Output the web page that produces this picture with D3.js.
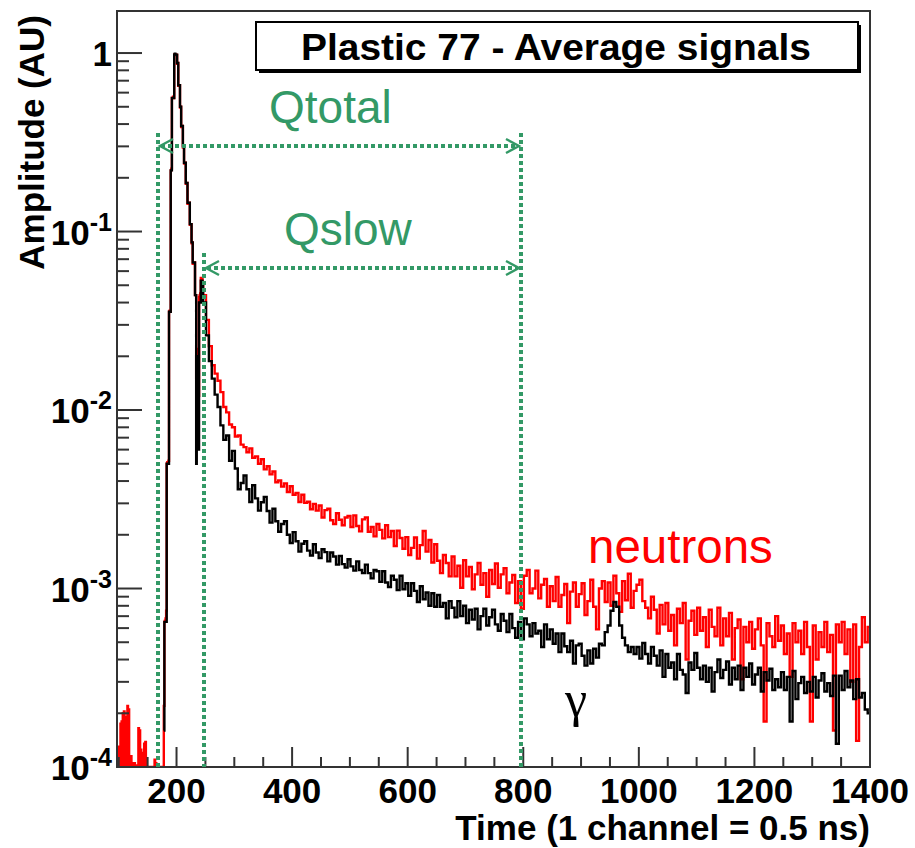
<!DOCTYPE html>
<html><head><meta charset="utf-8">
<script src="https://cdn.jsdelivr.net/npm/d3@7"></script>
<style>body{margin:0;background:#fff}svg{display:block}</style>
</head><body>
<svg id="chart" width="915" height="848"></svg>
<script>
// ---------- DATA (amplitudes in units of 1e-4) ----------
const AMP_UNIT = 1e-4;
const neutronHeadStart = 96;   // first channel, 1-channel bins
const neutronHead = [
 0.3,
 1.3,0.3,1.25,0.4,1.3,0.3,
 1.75,0.3,1.8,0.5,
 2.0,0.3,2.05,0.3,
 1.9,0.4,1.85,
 0.3,2.2,0.3,2.1,0.3,
 1.1,0.3,1.15,0.3,
 1.05,0.3,1.0,0.3,1.05,
 0.3,1.0,0.3,1.02,0.3,0.5,
 1.65,0.3,1.6,0.3,
 1.25,0.3,1.2,
 0.3,0.3,0.3,
 1.35,0.3,1.38,
 0.3,0.3,0.3,0.3,0.3,0.3,0.3,0.3,0.3,0.3,0.3,0.3,0.3,0.3,0.3,
 1.1,0.3,1.05,0.3,
 0.3,0.3,0.3,0.3,0.3,0.3,0.3,0.3,0.3,0.3,0.3,0.3,
 2.2, 6.5,6.6,6.8,7.5, 50,51,50,52, 355,360,355, 2200,2250, 5600,5600,5700,5600,
 9800,9850,9800,9800,9750, 8700,8800, 6550,6600,6600, 4950,5000, 3850,3900,3900,
 2950,3000, 2400,2430,2430, 1850,1870,1870, 1430,1450,1450,1450, 1090,1100,1100,
 860,870, 660,670,670,670, 440,440, 150,160,220,140,120, 430,440,450, 550,550,540,520
];
const gammaHeadStart = 178;
const gammaHead = [
 1.6, 6.5,6.5,6.5,6.5, 50,50,50,50, 355,355,355, 2200,2200, 5600,5600,5600,5600,
 9800,9900,9800,9800,9800, 8800,8800, 6600,6600,6600, 5000,5000, 3900,3900,3900,
 3000,3000, 2430,2430,2430, 1870,1870,1870, 1450,1450,1450,1450, 1100,1100,1100,
 870,870, 670,670,670,670, 440,440, 50,120,200,80,60, 400,400,400, 530,530,530,500
];
const tailStart = 246, tailBinWidth = 5;
const neutronTail = [
 440,320,228,178,160,146,126,104,97,83,
 80,71,72,64,62,58,61,54,55,50,
 53,46.5,48.4,43.6,45.2,39.4,40.3,37.2,38.8,34.7,
 37.4,33.5,34.3,30.5,33.5,30.2,30.6,27.8,29.8,27.3,
 29.2,25.0,27.5,28.0,24.1,23.0,26.4,24.3,22.6,25.0,
 25.5,22.1,25.7,22.4,20.9,24.4,25.0,20.8,22.1,19.6,
 23.0,21.3,19.1,22.6,19.4,21.0,17.3,21.1,19.2,16.7,
 19.4,15.4,16.9,19.3,14.7,17.5,21.0,16.1,18.7,14.0,
 17.7,14.3,12.2,15.4,13.9,11.7,15.1,11.7,13.4,10.1,
 14.4,11.7,13.2,9.9,12.0,13.9,10.5,12.2,9.0,12.7,
 10.6,13.8,10.1,12.0,13.0,9.4,10.8,11.9,8.3,11.0,
 7.7,11.8,12.7,9.4,10.0,12.6,8.8,10.5,11.3,7.9,
 10.3,8.5,11.6,7.9,9.2,10.6,6.4,9.6,10.8,7.9,
 9.3,10.7,7.1,8.5,11.2,7.9,5.9,10.0,11.0,8.4,
 10.8,8.0,11.8,9.4,7.4,11.0,8.6,12.1,7.8,9.7,
 10.5,11.2,8.5,7.8,6.8,9.0,7.6,5.6,8.1,6.3,
 8.3,5.8,7.1,4.8,7.7,6.4,8.3,4.0,6.6,7.5,
 5.5,7.8,5.8,6.9,4.7,7.6,6.1,5.4,7.8,4.8,
 6.8,5.4,7.3,4.0,6.0,6.7,3.1,6.1,5.0,6.5,
 4.6,5.9,6.8,4.8,1.8,6.4,5.4,4.7,7.0,5.1,
 6.2,4.3,5.6,3.2,6.4,5.0,5.8,4.3,6.5,4.7,
 1.8,6.2,4.0,5.7,4.7,6.5,4.4,5.5,1.6,6.3,
 5.0,6.5,4.3,5.9,3.0,6.3,1.4,4.7,6.9,5.0,6.1
];
const gammaTail = [
 400,262,188,150,122,104,82,68,72,52,
 59,47,36,39,43,36,30.5,37.9,32,27.3,
 30.4,32.6,27.2,23.4,28,23.8,20.8,23,23.8,20,
 18,20.7,18.4,16.1,17.8,18.4,16.3,15.3,17.7,15.9,
 14.8,16.6,16.0,14.2,15.9,15.1,13.6,15.2,13.7,13.1,
 14.6,13.3,12.6,14.2,12.7,12.2,13.6,12.2,11.4,12.7,
 12.5,10.9,12.5,10.8,10.2,11.8,11.2,9.8,11.8,9.9,
 10.7,9.1,10.7,9.7,8.4,10.3,8.7,9.5,8.0,9.4,
 7.9,9.2,7.9,8.3,6.8,8.5,7.8,6.9,8.5,7.0,
 8.0,6.4,7.6,6.7,7.7,5.9,7.0,7.7,6.2,6.9,
 7.6,6.3,5.8,7.2,6.6,5.7,7.2,6.0,5.3,6.5,
 5.2,6.8,6.3,5.4,6.4,5.6,5.8,4.7,6.3,5.2,
 5.9,4.9,5.6,4.4,5.6,4.75,4.4,5.1,3.8,4.8,
 4.9,4.2,3.7,4.5,3.8,4.6,4.1,4.9,4.8,5.7,
 6.2,7.5,8.4,7.9,6.2,5.3,4.8,4.4,4.7,4.3,
 4.7,4.05,4.95,4.3,3.8,4.7,4.2,3.7,4.5,3.2,
 4.3,3.6,3.85,3.1,4.3,3.5,3.3,2.6,3.85,3.5,
 4.35,3.6,3.1,3.7,3.0,3.6,2.65,3.4,4.0,3.15,
 3.5,3.9,2.9,3.6,3.1,3.7,2.7,3.6,3.2,3.8,
 2.9,3.3,3.6,2.65,3.4,3.05,3.55,2.7,3.1,2.8,
 3.4,2.7,3.2,1.8,3.45,2.4,2.95,3.2,2.6,3.0,
 2.65,3.2,2.45,3.05,3.35,2.65,2.95,2.5,3.25,1.35,
 3.25,2.7,3.45,2.8,3.05,2.4,3.1,2.45,2.6,2.1,2.0
];
const xDomain = [97, 1400];
const yDomain = [1e-4, 1.72];
const xTicks = [200, 400, 600, 800, 1000, 1200, 1400];
const yTicks = [1e-4, 1e-3, 1e-2, 1e-1, 1];
const yTickBase = ["10", "10", "10", "10", "1"];
const yTickExp = ["-4", "-3", "-2", "-1", ""];
const titleText = "Plastic 77 - Average signals";
const xTitle = "Time (1 channel = 0.5 ns)";
const yTitle = "Amplitude (AU)";
const windowNames = ["Qtotal", "Qslow"];
const windowStart = [168, 248];
const windowEnd = [796, 796];
const windowArrowAmp = [0.30, 0.0627];
const windowTopAmp = [0.356, 0.0758];
const seriesNames = ["neutrons", "\u03b3"];

// ---------- LAYOUT ----------
const W = 915, H = 848;
const L = 117, R = 870, T = 11, B = 767;
const svg = d3.select("#chart");
svg.append("rect").attr("width", W).attr("height", H).attr("fill", "#fff");

const x = d3.scaleLinear().domain(xDomain).range([L, R]);
const y = d3.scaleLog().domain(yDomain).range([B, T]).clamp(true);

svg.append("defs").append("clipPath").attr("id", "plotclip")
  .append("rect").attr("x", L).attr("y", T).attr("width", R - L).attr("height", B - T);

function buildBins(headStart, head, tail) {
  const pts = [];
  head.forEach((v, i) => pts.push([headStart + i, v * AMP_UNIT]));
  tail.forEach((v, i) => pts.push([tailStart + i * tailBinWidth, v * AMP_UNIT]));
  const last = pts[pts.length - 1];
  pts.push([tailStart + tail.length * tailBinWidth, last[1]]);
  return pts;
}
const neutronPts = buildBins(neutronHeadStart, neutronHead, neutronTail);
const gammaPts = buildBins(gammaHeadStart, gammaHead, gammaTail);

const line = d3.line().x(d => x(d[0])).y(d => y(d[1])).curve(d3.curveStepAfter);
const gPlot = svg.append("g").attr("clip-path", "url(#plotclip)");
gPlot.append("path").attr("d", line(neutronPts)).attr("fill", "none")
  .attr("stroke", "#ff0000").attr("stroke-width", 2.4).attr("stroke-linejoin", "miter");
gPlot.append("path").attr("d", line(gammaPts)).attr("fill", "none")
  .attr("stroke", "#000").attr("stroke-width", 2.4).attr("stroke-linejoin", "miter");

// ---------- AXES ----------
const axisColor = "#333";
const fontSans = "'Liberation Sans', Arial, Helvetica, sans-serif";
const xMinor = d3.range(100, 1401, 50);
const gx = svg.append("g");
xMinor.forEach(v => {
  if (v < xDomain[0] || v > xDomain[1]) return;
  const major = v % 200 === 0;
  gx.append("line").attr("x1", x(v)).attr("x2", x(v)).attr("y1", B).attr("y2", B - (major ? 20 : 10))
    .attr("stroke", axisColor).attr("stroke-width", 2);
});
xTicks.forEach(v => {
  gx.append("text").attr("x", x(v)).attr("y", 803).attr("text-anchor", "middle")
    .attr("font-family", fontSans).attr("font-weight", "bold").attr("font-size", 35)
    .text(v);
});
const gy = svg.append("g");
for (let e = -4; e <= 0; e++) {
  for (let m = 1; m <= 9; m++) {
    const v = m * Math.pow(10, e);
    if (v > yDomain[1]) continue;
    const major = m === 1;
    gy.append("line").attr("x1", L).attr("x2", L + (major ? 25 : 12)).attr("y1", y(v)).attr("y2", y(v))
      .attr("stroke", axisColor).attr("stroke-width", 2);
  }
}
yTicks.forEach((v, i) => {
  const t = gy.append("text").attr("x", 112).attr("y", y(v) + 13).attr("text-anchor", "end")
    .attr("font-family", fontSans).attr("font-weight", "bold").attr("font-size", 35);
  t.append("tspan").text(yTickBase[i]);
  if (yTickExp[i]) t.append("tspan").attr("dy", -14).attr("font-size", 25).text(yTickExp[i]);
});
svg.append("rect").attr("x", L).attr("y", T).attr("width", R - L).attr("height", B - T)
  .attr("fill", "none").attr("stroke", axisColor).attr("stroke-width", 2);

svg.append("text").attr("x", R).attr("y", 840).attr("text-anchor", "end")
  .attr("font-family", fontSans).attr("font-weight", "bold").attr("font-size", 35).text(xTitle);
svg.append("text").attr("transform", "translate(44,15) rotate(-90)").attr("text-anchor", "end")
  .attr("font-family", fontSans).attr("font-weight", "bold").attr("font-size", 35).text(yTitle);

// ---------- TITLE BOX ----------
svg.append("rect").attr("x", 259).attr("y", 25).attr("width", 602).attr("height", 48).attr("fill", "#000");
svg.append("rect").attr("x", 256).attr("y", 22).attr("width", 602).attr("height", 48)
  .attr("fill", "#fff").attr("stroke", "#000").attr("stroke-width", 2);
svg.append("text").attr("x", 556).attr("y", 60).attr("text-anchor", "middle")
  .attr("font-family", fontSans).attr("font-weight", "bold").attr("font-size", 37)
  .attr("textLength", 510).attr("lengthAdjust", "spacingAndGlyphs").text(titleText);

// ---------- INTEGRATION WINDOWS ----------
const green = "#339966";
const gw = svg.append("g");
const dash = "4,3";
const dotW = 4;
windowNames.forEach((name, i) => {
  const xs = Math.round(x(windowStart[i])), xe = Math.round(x(windowEnd[i]));
  const ya = Math.round(y(windowArrowAmp[i])), yt = y(windowTopAmp[i]);
  gw.append("line").attr("x1", xs).attr("x2", xs).attr("y1", yt).attr("y2", B)
    .attr("stroke", green).attr("stroke-width", dotW).attr("stroke-dasharray", dash);
  gw.append("line").attr("x1", xs + 3).attr("x2", xe - 3).attr("y1", ya).attr("y2", ya)
    .attr("stroke", green).attr("stroke-width", dotW).attr("stroke-dasharray", dash);
  gw.append("path").attr("d", `M${xs + 15},${ya - 7} L${xs + 2},${ya} L${xs + 15},${ya + 7}`)
    .attr("fill", "none").attr("stroke", green).attr("stroke-width", 2.4);
  gw.append("path").attr("d", `M${xe - 15},${ya - 7} L${xe - 2},${ya} L${xe - 15},${ya + 7}`)
    .attr("fill", "none").attr("stroke", green).attr("stroke-width", 2.4);
});
gw.append("line").attr("x1", Math.round(x(windowEnd[0]))).attr("x2", Math.round(x(windowEnd[0])))
  .attr("y1", y(windowTopAmp[0])).attr("y2", B)
  .attr("stroke", green).attr("stroke-width", dotW).attr("stroke-dasharray", dash);
gw.append("text").attr("x", 269).attr("y", 123).attr("font-family", fontSans).attr("font-size", 46)
  .attr("fill", green).text(windowNames[0]);
gw.append("text").attr("x", 284).attr("y", 245).attr("font-family", fontSans).attr("font-size", 46)
  .attr("fill", green).text(windowNames[1]);

// ---------- SERIES LABELS ----------
svg.append("text").attr("x", 588).attr("y", 563).attr("font-family", fontSans).attr("font-size", 47.5)
  .attr("fill", "#ff0000").text(seriesNames[0]);
svg.append("text").attr("x", 576).attr("y", 716).attr("text-anchor", "middle")
  .attr("font-family", "'Liberation Serif', 'Times New Roman', serif").attr("font-size", 50)
  .attr("fill", "#000").text(seriesNames[1]);
</script>
</body></html>
